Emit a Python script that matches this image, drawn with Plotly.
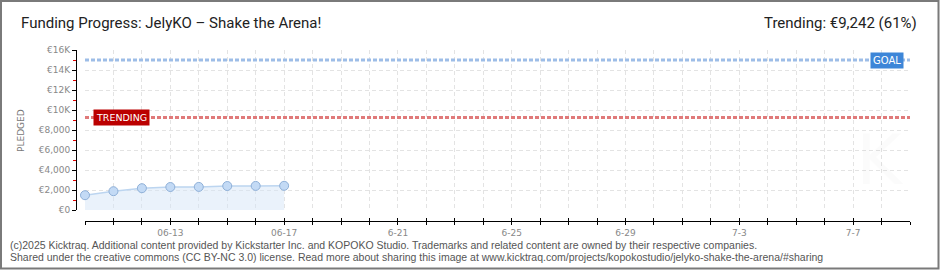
import plotly.graph_objects as go

# ---- data ----
dates = ["2025-06-10", "2025-06-11", "2025-06-12", "2025-06-13",
         "2025-06-14", "2025-06-15", "2025-06-16", "2025-06-17"]
pledged = [1480, 1880, 2180, 2300, 2310, 2400, 2410, 2420]
goal = 15000
trending = 9242
x_start = "2025-06-10"
x_end = "2025-07-09"
tick_dates = ["2025-06-%02d" % d for d in range(10, 31)] + ["2025-07-%02d" % d for d in range(1, 10)]
labeled = {"2025-06-13": "06-13", "2025-06-17": "06-17", "2025-06-21": "6-21",
           "2025-06-25": "6-25", "2025-06-29": "6-29", "2025-07-03": "7-3",
           "2025-07-07": "7-7"}
tick_text = [labeled.get(d, "") for d in tick_dates]
y_tickvals = [0, 2000, 4000, 6000, 8000, 10000, 12000, 14000, 16000]
y_ticktext = ["€0", "€2,000", "€4,000", "€6,000", "€8,000", "€10K", "€12K", "€14K", "€16K"]
title_text = "Funding Progress: JelyKO – Shake the Arena!"
trend_text = "Trending: €9,242 (61%)"
footer1 = "(c)2025 Kicktraq. Additional content provided by Kickstarter Inc. and KOPOKO Studio. Trademarks and related content are owned by their respective companies."
footer2 = "Shared under the creative commons (CC BY-NC 3.0) license. Read more about sharing this image at www.kicktraq.com/projects/kopokostudio/jelyko-shake-the-arena/#sharing"

# ---- layout geometry ----
W, H = 940, 270
ML, MR, MT, MB = 76, 30, 50, 49
PW = W - ML - MR
PH = H - MT - MB

def px(xp):
    return (xp - ML) / PW

def py(yp):
    return 1 - (yp - MT) / PH

tick_font = dict(family="DejaVu Sans", size=9, color="#888888")
head_font = dict(family="Roboto, sans-serif", size=15, color="#222")

fig = go.Figure()

# goal & trending lines
fig.add_trace(go.Scatter(x=[x_start, x_end], y=[goal, goal], mode="lines",
                         line=dict(color="#9dbde7", width=3, dash="4px,2px"),
                         hoverinfo="skip", showlegend=False, cliponaxis=False))
fig.add_trace(go.Scatter(x=[x_start, x_end], y=[trending, trending], mode="lines",
                         line=dict(color="#e07a7a", width=3, dash="4px,2px"),
                         hoverinfo="skip", showlegend=False, cliponaxis=False))

# pledged area
fig.add_trace(go.Scatter(x=dates, y=pledged, mode="lines+markers",
                         line=dict(color="#bcd5f0", width=1.5),
                         fill="tozeroy", fillcolor="rgba(214,230,248,0.5)",
                         marker=dict(size=9, color="#c3daf5",
                                     line=dict(color="#8fb0d8", width=1)),
                         showlegend=False, cliponaxis=False))

# dummy trace for overlay x axis (inside ticks)
fig.add_trace(go.Scatter(x=[x_start], y=[0], xaxis="x2", mode="markers",
                         marker=dict(opacity=0), hoverinfo="skip", showlegend=False))

fig.update_layout(
    width=W, height=H,
    margin=dict(l=ML, r=MR, t=MT, b=MB),
    paper_bgcolor="white", plot_bgcolor="white",
    xaxis=dict(
        domain=[px(85), 1], anchor="free", position=0,
        type="date", range=[x_start, x_end],
        tickmode="array", tickvals=tick_dates, ticktext=tick_text,
        ticks="outside", ticklen=3, tickwidth=1, tickcolor="#000",
        showline=True, linecolor="#000", linewidth=1,
        showgrid=True, gridcolor="#e3e3e3", griddash="4px,3px", gridwidth=1,
        tickfont=tick_font, zeroline=False,
    ),
    xaxis2=dict(
        domain=[px(85), 1], anchor="free", position=0, overlaying="x",
        matches="x", type="date",
        tickmode="array", tickvals=tick_dates, showticklabels=False,
        ticks="inside", ticklen=3, tickwidth=1, tickcolor="#000",
        showline=False, showgrid=False, zeroline=False,
    ),
    yaxis=dict(
        domain=[py(210), 1], anchor="free", position=0,
        range=[0, 16000],
        tickmode="array", tickvals=y_tickvals, ticktext=y_ticktext,
        ticks="outside", ticklen=4, tickwidth=1, tickcolor="#000",
        minor=dict(dtick=1000, ticks="outside", ticklen=3, tickcolor="#e00000",
                   showgrid=False),
        showline=True, linecolor="#000", linewidth=1,
        showgrid=True, gridcolor="#e3e3e3", griddash="4px,3px", gridwidth=1,
        tickfont=tick_font, zeroline=False,
    ),
)

# border
fig.add_shape(type="rect", xref="paper", yref="paper",
              x0=px(1), x1=px(938.5), y0=py(268.5), y1=py(1),
              line=dict(color="#7a7a7a", width=2), fillcolor="rgba(0,0,0,0)", layer="below")

annos = [
    dict(text=title_text, x=px(19), y=py(23), xanchor="left", yanchor="middle", font=head_font),
    dict(text=trend_text, x=px(919), y=py(23), xanchor="right", yanchor="middle", font=head_font),
    dict(text=footer1, x=px(8), y=py(245), xanchor="left", yanchor="middle",
         font=dict(family="Liberation Sans", size=10.5, color="#555")),
    dict(text=footer2, x=px(8), y=py(256.5), xanchor="left", yanchor="middle",
         font=dict(family="Liberation Sans", size=10.5, color="#555")),
    dict(text="PLEDGED", x=px(21), y=py(130), xanchor="center", yanchor="middle",
         textangle=-90, font=dict(family="DejaVu Sans", size=9, color="#777")),
    dict(text="K", x=px(880), y=py(160), xanchor="center", yanchor="middle",
         font=dict(family="DejaVu Sans", size=70, color="rgba(0,0,0,0.015)")),
]
for a in annos:
    fig.add_annotation(xref="paper", yref="paper", showarrow=False, **a)

# goal / trending labels on data coordinates
fig.add_annotation(x=x_end, y=goal, xref="x", yref="y", text="GOAL", showarrow=False,
                   xanchor="right", yanchor="middle", xshift=-6,
                   bgcolor="#3d86d8", borderpad=2,
                   font=dict(family="DejaVu Sans", size=10, color="white"))
fig.add_annotation(x=x_start, y=trending, xref="x", yref="y", text="TRENDING", showarrow=False,
                   xanchor="left", yanchor="middle", xshift=8,
                   bgcolor="#bb0000", borderpad=2,
                   font=dict(family="DejaVu Sans", size=9.5, color="white"))

fig.write_html("out.html")
